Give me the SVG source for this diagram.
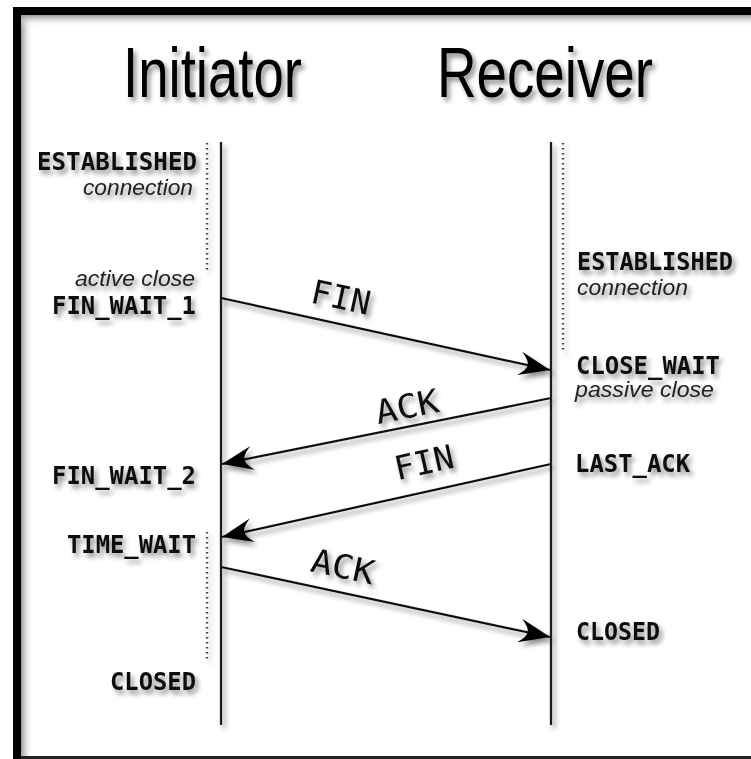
<svg xmlns="http://www.w3.org/2000/svg" width="751" height="759" viewBox="0 0 751 759">
  <defs>
    <style>
      .title { font-family: "Liberation Sans", Arial, sans-serif; font-size: 70px; fill: #000; }
      .state { font-family: "DejaVu Sans Mono", "Liberation Mono", monospace; font-weight: bold; font-size: 24px; fill: #111; }
      .note { font-family: "Liberation Sans", Arial, sans-serif; font-style: italic; font-size: 22px; fill: #222; }
      .msg { font-family: "DejaVu Sans Mono", "Liberation Mono", monospace; font-size: 33px; fill: #111; text-anchor: middle; }
      .life { stroke: #1a1a1a; stroke-width: 2.2; fill: none; }
      .dots { stroke: #444; stroke-width: 2.4; stroke-dasharray: 1.6 3.4; fill: none; }
      .arrow { stroke: #111; stroke-width: 2.2; fill: none; marker-end: url(#head); }
    </style>
    <marker id="head" markerUnits="userSpaceOnUse" markerWidth="40" markerHeight="30" viewBox="-33 -15 35 30" refX="0" refY="0" orient="auto">
      <path d="M0,0 L-31,-12 Q-22,-4 -23,0 Q-22,4 -31,12 Z" fill="#000"/>
    </marker>
    <filter id="shadow" x="-10%" y="-10%" width="130%" height="130%">
      <feDropShadow dx="3" dy="4" stdDeviation="2.5" flood-color="#000" flood-opacity="0.45"/>
    </filter>
    <linearGradient id="innerLeft" x1="0" y1="0" x2="1" y2="0">
      <stop offset="0" stop-color="#9a9a9a"/>
      <stop offset="1" stop-color="#ffffff" stop-opacity="0"/>
    </linearGradient>
    <linearGradient id="innerTop" x1="0" y1="0" x2="0" y2="1">
      <stop offset="0" stop-color="#9a9a9a"/>
      <stop offset="1" stop-color="#ffffff" stop-opacity="0"/>
    </linearGradient>
  </defs>

  <!-- page and frame -->
  <rect x="0" y="0" width="751" height="759" fill="#fff"/>
  <rect x="21" y="15" width="12" height="741" fill="url(#innerLeft)"/>
  <rect x="21" y="15" width="730" height="12" fill="url(#innerTop)"/>
  <rect x="13" y="7" width="738" height="8" fill="#000"/>
  <rect x="13" y="7" width="8" height="752" fill="#000"/>
  <rect x="21" y="756" width="730" height="3" fill="#222"/>

  <g filter="url(#shadow)">
    <!-- participants -->
    <g id="initiator">
      <text class="title" x="123" y="97" textLength="179" lengthAdjust="spacingAndGlyphs">Initiator</text>
      <line class="life" x1="221" y1="142" x2="221" y2="725"/>
    </g>
    <g id="receiver">
      <text class="title" x="437" y="97" textLength="216" lengthAdjust="spacingAndGlyphs">Receiver</text>
      <line class="life" x1="551" y1="142" x2="551" y2="725"/>
    </g>

    <!-- initiator states -->
    <g id="init-established">
      <line class="dots" x1="207" y1="143" x2="207" y2="272"/>
      <text class="state" x="37" y="170" textLength="160" lengthAdjust="spacingAndGlyphs">ESTABLISHED</text>
      <text class="note" x="193" y="195" text-anchor="end" textLength="110" lengthAdjust="spacingAndGlyphs">connection</text>
    </g>
    <g id="init-fin-wait-1">
      <text class="note" x="195" y="286" text-anchor="end" textLength="120" lengthAdjust="spacingAndGlyphs">active close</text>
      <text class="state" x="52" y="314" textLength="144" lengthAdjust="spacingAndGlyphs">FIN_WAIT_1</text>
    </g>
    <g id="init-fin-wait-2">
      <text class="state" x="52" y="484" textLength="144" lengthAdjust="spacingAndGlyphs">FIN_WAIT_2</text>
    </g>
    <g id="init-time-wait">
      <line class="dots" x1="207" y1="532" x2="207" y2="660"/>
      <text class="state" x="67" y="553" textLength="129" lengthAdjust="spacingAndGlyphs">TIME_WAIT</text>
    </g>
    <g id="init-closed">
      <text class="state" x="110" y="690" textLength="86" lengthAdjust="spacingAndGlyphs">CLOSED</text>
    </g>

    <!-- receiver states -->
    <g id="recv-established">
      <line class="dots" x1="563" y1="143" x2="563" y2="352"/>
      <text class="state" x="577" y="270" textLength="156" lengthAdjust="spacingAndGlyphs">ESTABLISHED</text>
      <text class="note" x="577" y="295" textLength="111" lengthAdjust="spacingAndGlyphs">connection</text>
    </g>
    <g id="recv-close-wait">
      <text class="state" x="576" y="374" textLength="144" lengthAdjust="spacingAndGlyphs">CLOSE_WAIT</text>
      <text class="note" x="575" y="397" textLength="139" lengthAdjust="spacingAndGlyphs">passive close</text>
    </g>
    <g id="recv-last-ack">
      <text class="state" x="575" y="472" textLength="115" lengthAdjust="spacingAndGlyphs">LAST_ACK</text>
    </g>
    <g id="recv-closed">
      <text class="state" x="576" y="640" textLength="84" lengthAdjust="spacingAndGlyphs">CLOSED</text>
    </g>

    <!-- messages -->
    <g id="connectors">
      <line class="arrow" x1="221" y1="298" x2="550" y2="370"/>
      <line class="arrow" x1="551" y1="398" x2="222" y2="464"/>
      <line class="arrow" x1="551" y1="464" x2="222" y2="537"/>
      <line class="arrow" x1="221" y1="567" x2="550" y2="637"/>
      <text class="msg" transform="translate(341,297) rotate(12.3)" y="12" textLength="60" lengthAdjust="spacingAndGlyphs">FIN</text>
      <text class="msg" transform="translate(407,406) rotate(-11.3)" y="12" textLength="64" lengthAdjust="spacingAndGlyphs">ACK</text>
      <text class="msg" transform="translate(424,462) rotate(-12.5)" y="12" textLength="60" lengthAdjust="spacingAndGlyphs">FIN</text>
      <text class="msg" transform="translate(343,566) rotate(12)" y="12" textLength="64" lengthAdjust="spacingAndGlyphs">ACK</text>
    </g>
  </g>
</svg>
